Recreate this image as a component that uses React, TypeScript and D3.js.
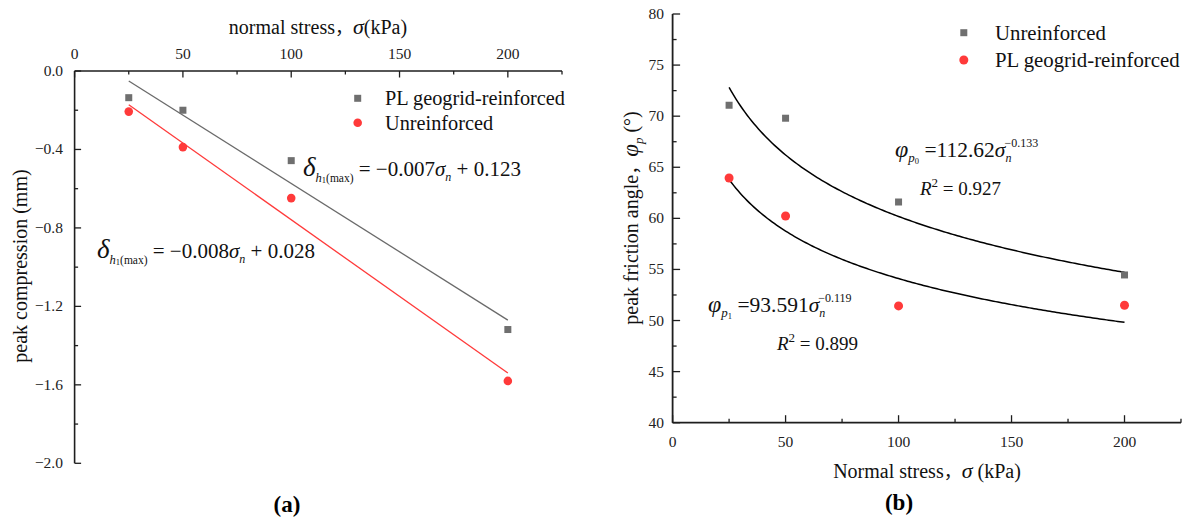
import React from "react";
import * as d3 from "d3";

// ---------- data (a) ----------
const stressA = [25, 50, 100, 200];
const compReinforced = [-0.136, -0.2, -0.457, -1.318];
const compUnreinforced = [-0.207, -0.388, -0.648, -1.58];
const fitEndsA = [25, 200];
const fitReinforcedA = [-0.051, -1.27];
const fitUnreinforcedA = [-0.172, -1.54];
const yTicksA = [0, -0.4, -0.8, -1.2, -1.6, -2.0];
const xTicksA = [0, 50, 100, 150, 200];

// ---------- data (b) ----------
const stressB = [25, 50, 100, 200];
const phiUnreinforced = [71.07, 69.8, 61.6, 54.46];
const phiReinforced = [63.95, 60.23, 51.43, 51.5];
const fitCoefB = [113.37, 93.591];
const fitExpB = [-0.1375, -0.119];
const fitRangeB = [25, 200];
const yTicksB = [40, 45, 50, 55, 60, 65, 70, 75, 80];
const xTicksB = [0, 50, 100, 150, 200];

const GRAY = "#6f6f6f";
const RED = "#ff3a3a";
const AX = "#1e1e1e";
const FONT = "'Liberation Serif', 'Times New Roman', serif";
const CJK = "'Noto Sans CJK SC', sans-serif";

const fmtMinus = (v: number) => (v < 0 ? "\u2212" : "") + Math.abs(v).toFixed(1);

export default function App() {
  // panel (a)
  const xA = d3.scaleLinear().domain([0, 225]).range([74.6, 562]);
  const yA = d3.scaleLinear().domain([-2, 0]).range([463.3, 71]);
  // panel (b)
  const xB = d3.scaleLinear().domain([0, 225]).range([672.6, 1181]);
  const yB = d3.scaleLinear().domain([40, 80]).range([422.7, 14]);

  const minorA = d3.range(-1.8, 0, 0.4);
  const minorXA = [25, 75, 125, 175, 225];
  const minorYB = d3.range(42.5, 80, 5);
  const minorXB = [25, 75, 125, 175, 225];

  const line = d3.line<[number, number]>();
  const curvePts = (i: number) =>
    d3.range(fitRangeB[0], fitRangeB[1] + 0.5, 1).map(
      (s) => [xB(s), yB(fitCoefB[i] * Math.pow(s, fitExpB[i]))] as [number, number]
    );

  const sq = 7;

  return (
    <svg
      width={1190}
      height={520}
      style={{ position: "absolute", left: 0, top: 0, background: "#fff" }}
      fontFamily={FONT}
    >
      {/* ================= Panel (a) ================= */}
      <g>
        <line x1={xA(0)} x2={xA(225)} y1={yA(0)} y2={yA(0)} stroke={AX} strokeWidth={1.6} />
        <line x1={xA(0)} x2={xA(0)} y1={yA(0)} y2={yA(-2)} stroke={AX} strokeWidth={1.6} />
        {xTicksA.map((t) => (
          <g key={"xa" + t}>
            <line x1={xA(t)} x2={xA(t)} y1={yA(0)} y2={yA(0) + 6.5} stroke={AX} strokeWidth={1.3} />
            <text x={xA(t)} y={58.5} fontSize={15.5} textAnchor="middle" fill="#222">
              {t}
            </text>
          </g>
        ))}
        {minorXA.map((t) => (
          <line key={"mxa" + t} x1={xA(t)} x2={xA(t)} y1={yA(0)} y2={yA(0) + 3.5} stroke={AX} strokeWidth={1.3} />
        ))}
        {yTicksA.map((t) => (
          <g key={"ya" + t}>
            <line x1={xA(0)} x2={xA(0) + 6.5} y1={yA(t)} y2={yA(t)} stroke={AX} strokeWidth={1.3} />
            <text x={63} y={yA(t) + 5} fontSize={15.5} textAnchor="end" fill="#222">
              {fmtMinus(t)}
            </text>
          </g>
        ))}
        {minorA.map((t) => (
          <line key={"mya" + t} x1={xA(0)} x2={xA(0) + 3.5} y1={yA(t)} y2={yA(t)} stroke={AX} strokeWidth={1.3} />
        ))}
        {/* titles */}
        <text x={318} y={34} fontSize={20} textAnchor="middle" fill="#111">
          normal stress<tspan fontFamily={CJK} fontSize={18}>，</tspan>
          <tspan fontStyle="italic" fontSize={22}>σ</tspan>(kPa)
        </text>
        <text transform={`translate(27,266) rotate(-90)`} fontSize={20} textAnchor="middle" fill="#111">
          peak compression (mm)
        </text>

        {/* fit lines */}
        <path
          d={line(fitEndsA.map((s, i) => [xA(s), yA(fitReinforcedA[i])] as [number, number])) || ""}
          stroke="#6a6a6a"
          strokeWidth={1.3}
          fill="none"
        />
        <path
          d={line(fitEndsA.map((s, i) => [xA(s), yA(fitUnreinforcedA[i])] as [number, number])) || ""}
          stroke={RED}
          strokeWidth={1.3}
          fill="none"
        />
        {stressA.map((s, i) => (
          <rect key={"ga" + i} x={xA(s) - sq / 2} y={yA(compReinforced[i]) - sq / 2} width={sq} height={sq} fill={GRAY} />
        ))}
        {stressA.map((s, i) => (
          <circle key={"ra" + i} cx={xA(s)} cy={yA(compUnreinforced[i])} r={4.3} fill={RED} />
        ))}

        {/* legend */}
        <rect x={357.7 - sq / 2} y={98.3 - sq / 2} width={sq} height={sq} fill={GRAY} />
        <text x={385} y={105} fontSize={20.3} fill="#111">
          PL geogrid-reinforced
        </text>
        <circle cx={357.7} cy={122.7} r={4.3} fill={RED} />
        <text x={385} y={129.5} fontSize={20.3} fill="#111">
          Unreinforced
        </text>

        {/* equations */}
        <text x={303} y={176} fontSize={21} fill="#111">
          <tspan fontStyle="italic" fontSize={27}>δ</tspan>
          <tspan fontStyle="italic" fontSize={12.5} dy={6}>h</tspan>
          <tspan fontSize={8.5} dy={1}>1</tspan>
          <tspan fontSize={11.5} dy={-1}>(max)</tspan>
          <tspan dy={-6}>{" = \u22120.007"}</tspan>
          <tspan fontStyle="italic">σ</tspan>
          <tspan fontStyle="italic" fontSize={12} dy={5}>n</tspan>
          <tspan dy={-5}>{" + 0.123"}</tspan>
        </text>
        <text x={97} y={258} fontSize={21} fill="#111">
          <tspan fontStyle="italic" fontSize={27}>δ</tspan>
          <tspan fontStyle="italic" fontSize={12.5} dy={6}>h</tspan>
          <tspan fontSize={8.5} dy={1}>1</tspan>
          <tspan fontSize={11.5} dy={-1}>(max)</tspan>
          <tspan dy={-6}>{" = \u22120.008"}</tspan>
          <tspan fontStyle="italic">σ</tspan>
          <tspan fontStyle="italic" fontSize={12} dy={5}>n</tspan>
          <tspan dy={-5}>{" + 0.028"}</tspan>
        </text>

        <text x={287} y={512} fontSize={23} fontWeight="bold" textAnchor="middle" fill="#000">
          (a)
        </text>
      </g>

      {/* ================= Panel (b) ================= */}
      <g>
        <line x1={xB(0)} x2={xB(225)} y1={yB(40)} y2={yB(40)} stroke={AX} strokeWidth={1.8} />
        <line x1={xB(0)} x2={xB(0)} y1={yB(40)} y2={yB(80)} stroke={AX} strokeWidth={1.8} />
        {xTicksB.map((t) => (
          <g key={"xb" + t}>
            <line x1={xB(t)} x2={xB(t)} y1={yB(40)} y2={yB(40) - 7.5} stroke={AX} strokeWidth={1.3} />
            <text x={xB(t)} y={447} fontSize={15.5} textAnchor="middle" fill="#222">
              {t}
            </text>
          </g>
        ))}
        {minorXB.map((t) => (
          <line key={"mxb" + t} x1={xB(t)} x2={xB(t)} y1={yB(40)} y2={yB(40) - 4} stroke={AX} strokeWidth={1.3} />
        ))}
        {yTicksB.map((t) => (
          <g key={"yb" + t}>
            <line x1={xB(0)} x2={xB(0) + 7.5} y1={yB(t)} y2={yB(t)} stroke={AX} strokeWidth={1.3} />
            <text x={664} y={yB(t) + 5} fontSize={15.5} textAnchor="end" fill="#222">
              {t}
            </text>
          </g>
        ))}
        {minorYB.map((t) => (
          <line key={"myb" + t} x1={xB(0)} x2={xB(0) + 4} y1={yB(t)} y2={yB(t)} stroke={AX} strokeWidth={1.3} />
        ))}

        <text x={927} y={478} fontSize={20} textAnchor="middle" fill="#111">
          Normal stress<tspan fontFamily={CJK} fontSize={18}>，</tspan>
          <tspan fontStyle="italic" fontSize={22}>σ</tspan>
          {" (kPa)"}
        </text>
        <text transform={`translate(638,218) rotate(-90)`} fontSize={20} textAnchor="middle" fill="#111">
          peak friction angle<tspan fontFamily={CJK} fontSize={18}>，</tspan>
          <tspan fontStyle="italic" fontSize={23}>φ</tspan>
          <tspan fontStyle="italic" fontSize={13} dy={5}>p</tspan>
          <tspan dy={-5}>{" (°)"}</tspan>
        </text>

        {/* fit curves */}
        <path d={line(curvePts(0)) || ""} stroke="#000" strokeWidth={1.5} fill="none" />
        <path d={line(curvePts(1)) || ""} stroke="#000" strokeWidth={1.5} fill="none" />

        {stressB.map((s, i) => (
          <rect key={"gb" + i} x={xB(s) - sq / 2} y={yB(phiUnreinforced[i]) - sq / 2} width={sq} height={sq} fill={GRAY} />
        ))}
        {stressB.map((s, i) => (
          <circle key={"rb" + i} cx={xB(s)} cy={yB(phiReinforced[i])} r={4.5} fill={RED} />
        ))}

        {/* legend */}
        <rect x={963.8 - sq / 2} y={32.7 - sq / 2} width={sq} height={sq} fill={GRAY} />
        <text x={995} y={40} fontSize={20.8} fill="#111">
          Unreinforced
        </text>
        <circle cx={963.8} cy={60} r={4.5} fill={RED} />
        <text x={995} y={67} fontSize={20.8} fill="#111">
          PL geogrid-reinforced
        </text>

        {/* equations */}
        <text x={895} y={157} fontSize={21.5} fill="#111">
          <tspan fontStyle="italic" fontSize={24}>φ</tspan>
          <tspan fontStyle="italic" fontSize={13} dy={5}>p</tspan>
          <tspan fontSize={8.5} dy={2}>0</tspan>
          <tspan dy={-7}>{" =112.62"}</tspan>
          <tspan fontStyle="italic">σ</tspan>
          <tspan fontStyle="italic" fontSize={12} dy={5}>n</tspan>
          <tspan fontSize={12} dx={-7} dy={-15}>{"\u22120.133"}</tspan>
        </text>
        <text x={920} y={195} fontSize={19} fill="#111">
          <tspan fontStyle="italic">R</tspan>
          <tspan fontSize={13} dy={-8}>2</tspan>
          <tspan dy={8}>{" = 0.927"}</tspan>
        </text>

        <text x={708} y={311.5} fontSize={21.5} fill="#111">
          <tspan fontStyle="italic" fontSize={24}>φ</tspan>
          <tspan fontStyle="italic" fontSize={13} dy={5}>p</tspan>
          <tspan fontSize={8.5} dy={2}>1</tspan>
          <tspan dy={-7}>{" =93.591"}</tspan>
          <tspan fontStyle="italic">σ</tspan>
          <tspan fontStyle="italic" fontSize={12} dy={5}>n</tspan>
          <tspan fontSize={12} dx={-7} dy={-15}>{"\u22120.119"}</tspan>
        </text>
        <text x={777} y={350} fontSize={19} fill="#111">
          <tspan fontStyle="italic">R</tspan>
          <tspan fontSize={13} dy={-8}>2</tspan>
          <tspan dy={8}>{" = 0.899"}</tspan>
        </text>

        <text x={899} y={510} fontSize={23} fontWeight="bold" textAnchor="middle" fill="#000">
          (b)
        </text>
      </g>
    </svg>
  );
}
